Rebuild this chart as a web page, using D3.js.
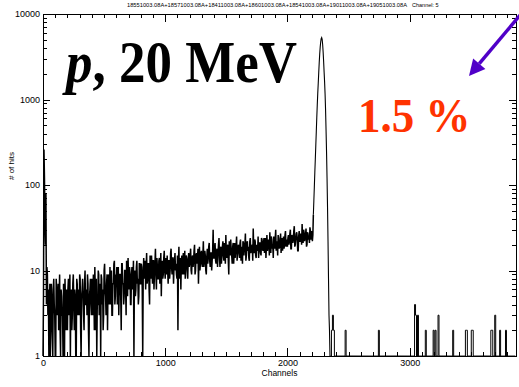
<!DOCTYPE html>
<html>
<head>
<meta charset="utf-8">
<script src="https://cdn.jsdelivr.net/npm/d3@7"></script>
<style>
  body { margin: 0; background: #fff; }
  svg { display: block; }
  .axis text { font-family: "Liberation Sans", Arial, sans-serif; font-size: 9px; fill: #000; }
  .axis path, .axis line { stroke: #000; shape-rendering: crispEdges; }
</style>
</head>
<body>
<div id="chart"></div>
<script>
// counts, one value every 8 channels from channel 0 ...
var noiseStep = 8;
var noiseCountsA = [
  0, 260, 35, 80, 11, 3, 0, 7, 2, 5, 1, 8, 3, 0, 6, 4, 2, 9, 1, 5, 3, 7, 0, 4, 6,
  2, 8, 4, 1, 6, 3, 9, 2, 5, 0, 7, 4, 3, 8, 1, 6, 5, 2, 10, 4, 3, 7, 1, 6, 4,
  8, 3, 6, 11, 2, 0, 4, 9, 5, 1, 8, 6, 3, 12, 5, 7, 2, 9, 6, 4, 10, 3, 7, 13, 5,
  8, 4, 11, 6, 9, 2, 12, 7, 5, 10, 3, 8, 14, 6, 9, 4, 11, 7, 1, 10, 6, 13, 8, 5, 12,
  7, 11, 1, 14, 9, 6, 16, 8, 12, 4, 10, 15, 7, 13, 9, 18, 6, 11, 8, 14, 10, 5, 13, 9, 17,
  8, 12, 15, 7, 13, 10, 18, 9, 14, 11, 16, 12, 8, 2, 19, 10, 6, 15, 12, 9, 17, 11, 14, 8, 16,
  12, 18, 9, 15, 13, 20, 10, 16, 14, 7, 19, 12, 17, 11, 22, 13, 15, 9, 18, 14, 21, 11, 16, 13, 30,
  14, 21, 12, 18, 16, 24, 11, 19, 15, 22, 13, 17, 26, 14, 20, 9, 18, 23, 15, 19, 12, 21, 17, 25, 16,
  20, 14, 23, 17, 12, 21, 18, 27, 15, 22, 19, 13, 24, 17, 20, 31, 16, 22, 14, 19, 25, 18, 21, 15, 23,
  17, 24, 20, 14, 26, 19, 22, 28, 16, 23, 20, 25, 18, 30, 21, 15, 24, 19, 27, 22, 17, 25, 20, 29, 23,
  19, 26, 22, 30, 18, 25, 23, 33, 20, 27, 24, 17, 29, 22, 26, 35, 21, 28, 24, 31, 20, 27, 25, 32, 23, 29, 26
];
// ... and the channels in between, from channel 4
var noiseCountsB = [
  5, 120, 20, 4, 9, 6, 3, 1, 7, 2, 6, 4, 0, 8, 3, 7, 5, 2, 6, 3, 0, 5, 8, 2, 4,
  6, 3, 9, 5, 2, 7, 4, 6, 1, 8, 3, 6, 9, 2, 5, 8, 3, 7, 4, 6, 9, 2, 5, 8, 3,
  5, 9, 2, 6, 8, 4, 10, 3, 7, 9, 4, 2, 10, 6, 3, 9, 7, 4, 11, 8, 3, 7, 12, 4, 9,
  11, 6, 3, 9, 5, 12, 7, 4, 10, 6, 13, 5, 8, 11, 4, 9, 6, 13, 8, 5, 11, 7, 4, 12, 7,
  12, 6, 9, 8, 13, 11, 7, 12, 6, 15, 8, 10, 13, 6, 12, 9, 14, 8, 13, 7, 16, 11, 8, 14, 10,
  14, 9, 10, 13, 8, 16, 11, 14, 7, 13, 10, 9, 15, 12, 8, 14, 13, 9, 16, 11, 8, 15, 10, 13, 11,
  15, 10, 14, 11, 17, 9, 15, 12, 18, 13, 10, 16, 12, 15, 11, 17, 10, 14, 12, 19, 13, 16, 10, 17, 14,
  18, 13, 17, 11, 20, 14, 18, 12, 19, 15, 21, 12, 16, 19, 13, 22, 15, 17, 12, 21, 16, 14, 20, 13, 19,
  16, 21, 13, 19, 22, 15, 20, 13, 21, 17, 14, 22, 16, 19, 13, 18, 23, 15, 20, 17, 14, 21, 16, 24, 18,
  21, 16, 24, 19, 17, 23, 15, 20, 25, 18, 14, 21, 24, 17, 22, 26, 18, 21, 16, 24, 20, 18, 26, 19, 22,
  24, 20, 27, 18, 26, 21, 29, 19, 23, 28, 17, 25, 22, 27, 20, 24, 30, 22, 26, 19, 28, 23, 21, 29, 25, 22
];

// the peak, one value every 4 channels from channel 2212
var peakStart = 2212, peakStep = 4;
var peakCounts = [
  45, 65, 95, 140, 200, 290, 420, 610, 860, 1180, 1550, 2050, 2700, 3400, 4100, 4700,
  5150, 5300, 5050, 4400, 3600, 2800, 2100, 1600, 1150, 750, 430, 240, 120, 55, 22, 8, 3, 2, 0
];

// after the peak: empty channels except these few
var tailStart = 2352, tailEnd = 3870;
var tailChannels = [2360, 2368, 2376, 2472, 2744, 3040, 3048, 3064, 3128, 3192, 3208, 3232, 3352, 3456, 3464, 3504, 3512, 3664, 3672, 3696, 3736, 3784];
var tailCounts   = [2, 3, 2, 2, 2, 4, 3, 3, 2, 2, 2, 3, 2, 2, 2, 2, 2, 2, 2, 3, 2, 2];

var xMajor = [0, 1000, 2000, 3000];
var yMajor = [1, 10, 100, 1000, 10000];

var titleText = "18551003.08A+18571003.08A+18411003.08A+18601003.08A+18541003.08A+19011003.08A+19051003.08A";

var W = 519, H = 387;
var margin = { top: 14, right: 3, bottom: 31, left: 43 };
var width = W - margin.left - margin.right,
    height = H - margin.top - margin.bottom;

var svg = d3.select("#chart").append("svg")
    .attr("width", W).attr("height", H);

var g = svg.append("g")
    .attr("transform", "translate(" + margin.left + "," + margin.top + ")");

var x = d3.scaleLinear().domain([0, tailEnd]).range([0, width]);
var y = d3.scaleLog().domain([1, 10000]).range([height, 0]).clamp(true);

// noise as a dense zig-zag line
var noisePts = [];
noiseCountsA.forEach(function (v, i) { noisePts.push([i * noiseStep, v]); });
noiseCountsB.forEach(function (v, i) { noisePts.push([4 + i * noiseStep, v]); });
noisePts.sort(function (a, b) { return a[0] - b[0]; });

var peakPts = peakCounts.map(function (v, i) { return [peakStart + i * peakStep, v]; });
noisePts.push(peakPts[0]);

// the empty tail as a histogram
var tailPts = [];
for (var c = tailStart; c <= tailEnd; c += 8) {
    var k = tailChannels.indexOf(c);
    tailPts.push([c, k >= 0 ? tailCounts[k] : 0]);
}

var line = d3.line()
    .x(function (d) { return x(d[0]); })
    .y(function (d) { return y(Math.max(d[1], 1)); });

g.append("path")
    .datum(noisePts)
    .attr("d", line)
    .attr("fill", "none")
    .attr("stroke", "#000")
    .attr("stroke-width", 1.5);

g.append("path")
    .datum(peakPts)
    .attr("d", line)
    .attr("fill", "none")
    .attr("stroke", "#000")
    .attr("stroke-width", 1.1);

g.append("path")
    .datum(tailPts)
    .attr("d", line.curve(d3.curveStepAfter))
    .attr("fill", "none")
    .attr("stroke", "#000")
    .attr("stroke-width", 1);

// axes, IDL style: ticks pointing inward on all four sides
var xMinor = d3.range(0, tailEnd, 100).filter(function (d) { return d % 1000; });
var yMinor = [];
yMajor.slice(0, -1).forEach(function (d) { for (var m = 2; m < 10; m++) yMinor.push(d * m); });

g.append("g").attr("class", "axis")
    .attr("transform", "translate(0," + height + ")")
    .call(d3.axisBottom(x).tickValues(xMajor).tickSize(-8).tickPadding(4).tickFormat(d3.format("d")));
g.append("g").attr("class", "axis")
    .attr("transform", "translate(0," + height + ")")
    .call(d3.axisBottom(x).tickValues(xMinor).tickSize(-4).tickFormat(""));
g.append("g").attr("class", "axis")
    .call(d3.axisTop(x).tickValues(xMajor).tickSize(-8).tickFormat(""));
g.append("g").attr("class", "axis")
    .call(d3.axisTop(x).tickValues(xMinor).tickSize(-4).tickFormat(""));

g.append("g").attr("class", "axis")
    .call(d3.axisLeft(y).tickValues(yMajor).tickSize(-7).tickPadding(3).tickFormat(d3.format("d")));
g.append("g").attr("class", "axis")
    .call(d3.axisLeft(y).tickValues(yMinor).tickSize(-4).tickFormat(""));
g.append("g").attr("class", "axis")
    .attr("transform", "translate(" + width + ",0)")
    .call(d3.axisRight(y).tickValues(yMajor).tickSize(-7).tickFormat(""));
g.append("g").attr("class", "axis")
    .attr("transform", "translate(" + width + ",0)")
    .call(d3.axisRight(y).tickValues(yMinor).tickSize(-4).tickFormat(""));

// axis titles
svg.append("text")
    .attr("x", margin.left + width / 2).attr("y", 376)
    .attr("text-anchor", "middle")
    .style("font-family", "Liberation Sans, Arial, sans-serif").style("font-size", "8.5px")
    .text("Channels");

svg.append("text")
    .attr("transform", "translate(14,166) rotate(-90)")
    .attr("text-anchor", "middle")
    .style("font-family", "Liberation Sans, Arial, sans-serif").style("font-size", "8px")
    .text("# of hits");

svg.append("text")
    .attr("x", 127).attr("y", 7)
    .attr("textLength", 280).attr("lengthAdjust", "spacingAndGlyphs")
    .style("font-family", "Liberation Sans, Arial, sans-serif").style("font-size", "5.5px")
    .text(titleText);
svg.append("text")
    .attr("x", 412).attr("y", 7)
    .style("font-family", "Liberation Sans, Arial, sans-serif").style("font-size", "5.5px")
    .text("Channel: 5");

// big labels
var big = svg.append("text")
    .attr("transform", "translate(66,82) scale(1,1.12)")
    .style("font-family", "Liberation Serif, Times New Roman, serif")
    .style("font-weight", "bold").style("font-size", "53px");
big.append("tspan").style("font-style", "italic").text("p");
big.append("tspan").text(", 20 MeV");

svg.append("text")
    .attr("transform", "translate(358,132) scale(1,1.1)")
    .style("font-family", "Liberation Serif, Times New Roman, serif")
    .style("font-weight", "bold").style("font-size", "45px")
    .style("fill", "#ff3300")
    .text("1.5 %");

// arrow
var tail = [521, 14], tip = [469, 76], headLen = 16, headHalf = 8;
var dx = tip[0] - tail[0], dy = tip[1] - tail[1], len = Math.sqrt(dx * dx + dy * dy);
var ux = dx / len, uy = dy / len;
var base = [tip[0] - ux * headLen, tip[1] - uy * headLen];
svg.append("line")
    .attr("x1", tail[0]).attr("y1", tail[1])
    .attr("x2", base[0]).attr("y2", base[1])
    .attr("stroke", "#5000c8").attr("stroke-width", 3.5);
svg.append("path")
    .attr("d", "M" + tip + "L" + [base[0] - uy * headHalf, base[1] + ux * headHalf] +
               "L" + [base[0] + uy * headHalf, base[1] - ux * headHalf] + "Z")
    .attr("fill", "#5000c8");
</script>
</body>
</html>
